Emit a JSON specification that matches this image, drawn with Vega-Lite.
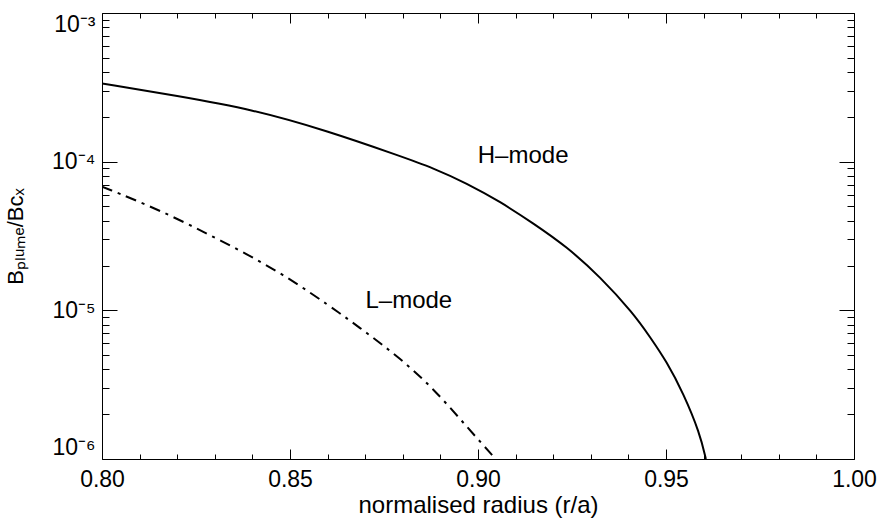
{
  "$schema": "https://vega.github.io/schema/vega-lite/v6.json",
  "width": 752,
  "height": 446,
  "autosize": {"type": "none"},
  "padding": {"left": 102, "top": 13, "right": 26, "bottom": 63},
  "background": "white",
  "config": {
    "view": {"stroke": null},
    "font": "Liberation Sans",
    "axis": {
      "domainColor": "black", "tickColor": "black", "labelColor": "black", "titleColor": "black",
      "grid": false, "labelFont": "Liberation Sans", "titleFont": "Liberation Sans",
      "labelFontWeight": "normal", "titleFontWeight": "normal", "domainWidth": 1, "tickWidth": 1
    }
  },
  "datasets": {
    "H": [
      {"r": 0.800, "ratio": 3.36e-4},
      {"r": 0.820, "ratio": 2.77e-4},
      {"r": 0.840, "ratio": 2.25e-4},
      {"r": 0.860, "ratio": 1.61e-4},
      {"r": 0.8793, "ratio": 1.09e-4},
      {"r": 0.8881, "ratio": 9.07e-5},
      {"r": 0.8970, "ratio": 7.15e-5},
      {"r": 0.9059, "ratio": 5.38e-5},
      {"r": 0.9147, "ratio": 3.85e-5},
      {"r": 0.9236, "ratio": 2.68e-5},
      {"r": 0.9325, "ratio": 1.68e-5},
      {"r": 0.9413, "ratio": 9.55e-6},
      {"r": 0.9457, "ratio": 6.65e-6},
      {"r": 0.9502, "ratio": 4.51e-6},
      {"r": 0.9546, "ratio": 2.77e-6},
      {"r": 0.9590, "ratio": 1.49e-6},
      {"r": 0.9606, "ratio": 1.0e-6}
    ],
    "L": [
      {"r": 0.800, "ratio": 6.8e-5},
      {"r": 0.8154, "ratio": 4.73e-5},
      {"r": 0.8314, "ratio": 2.97e-5},
      {"r": 0.8482, "ratio": 1.77e-5},
      {"r": 0.8646, "ratio": 9.05e-6},
      {"r": 0.8699, "ratio": 7.2e-6},
      {"r": 0.8793, "ratio": 4.76e-6},
      {"r": 0.8881, "ratio": 2.99e-6},
      {"r": 0.8970, "ratio": 1.65e-6},
      {"r": 0.9047, "ratio": 1.0e-6}
    ],
    "labels": [
      {"r": 0.912, "ratio": 1.1e-4, "text": "H–mode"},
      {"r": 0.8816, "ratio": 1.15e-5, "text": "L–mode"}
    ]
  },
  "layer": [
    {
      "data": {"name": "H"},
      "mark": {"type": "line", "color": "black", "strokeWidth": 2, "interpolate": "basis", "clip": true},
      "encoding": {
        "x": {
          "field": "r", "type": "quantitative",
          "scale": {"domain": [0.8, 1.0], "nice": false, "zero": false},
          "axis": {
            "orient": "bottom", "values": [0.8, 0.85, 0.9, 0.95, 1.0], "format": ".2f",
            "ticks": false, "labelPadding": 9, "labelFontSize": 23, "labelFlush": false,
            "title": "normalised radius (r/a)", "titleFontSize": 24, "titlePadding": 2
          }
        },
        "y": {
          "field": "ratio", "type": "quantitative",
          "scale": {"type": "log", "domain": [1e-6, 1e-3], "nice": false},
          "axis": {
            "orient": "left", "values": [1e-6, 1e-5, 1e-4, 1e-3], "ticks": false,
            "labelExpr": "datum.value > 5e-4 ? '10⁻³' : datum.value > 5e-5 ? '10⁻⁴' : datum.value > 5e-6 ? '10⁻⁵' : '10⁻⁶'",
            "labelFlush": true, "labelPadding": 7, "labelFontSize": 23,
            "title": "Bₚₗᵤₘₑ/Bᴄₓ", "titleFontSize": 22, "titlePadding": 24
          }
        }
      }
    },
    {
      "data": {"name": "L"},
      "mark": {"type": "line", "color": "black", "strokeWidth": 2, "strokeDash": [11, 6, 3, 6], "interpolate": "basis", "clip": true},
      "encoding": {
        "x": {
          "field": "r", "type": "quantitative",
          "scale": {"domain": [0.8, 1.0], "nice": false, "zero": false},
          "axis": {
            "orient": "bottom", "labels": false, "title": null, "domain": false,
            "values": [0.8, 0.81, 0.82, 0.83, 0.84, 0.85, 0.86, 0.87, 0.88, 0.89, 0.9, 0.91, 0.92, 0.93, 0.94, 0.95, 0.96, 0.97, 0.98, 0.99, 1.0],
            "tickSize": {"condition": {"test": "abs(datum.value*20 - round(datum.value*20)) < 0.001", "value": -10}, "value": -5}
          }
        },
        "y": {
          "field": "ratio", "type": "quantitative",
          "scale": {"type": "log", "domain": [1e-6, 1e-3], "nice": false},
          "axis": {
            "orient": "left", "labels": false, "title": null, "domain": false,
            "values": [1e-6, 2e-6, 3e-6, 4e-6, 5e-6, 6e-6, 7e-6, 8e-6, 9e-6, 1e-5, 2e-5, 3e-5, 4e-5, 5e-5, 6e-5, 7e-5, 8e-5, 9e-5, 1e-4, 2e-4, 3e-4, 4e-4, 5e-4, 6e-4, 7e-4, 8e-4, 9e-4, 1e-3],
            "tickSize": {"condition": {"test": "abs(log(datum.value)/LN10 - round(log(datum.value)/LN10)) < 0.001", "value": -15}, "value": -7}
          }
        }
      }
    },
    {
      "data": {"name": "labels"},
      "mark": {"type": "text", "color": "black", "fontSize": 24, "font": "Liberation Sans", "align": "center", "baseline": "middle"},
      "encoding": {
        "text": {"field": "text"},
        "x": {
          "field": "r", "type": "quantitative",
          "scale": {"domain": [0.8, 1.0], "nice": false, "zero": false},
          "axis": {
            "orient": "top", "labels": false, "title": null, "domain": true,
            "values": [0.8, 0.81, 0.82, 0.83, 0.84, 0.85, 0.86, 0.87, 0.88, 0.89, 0.9, 0.91, 0.92, 0.93, 0.94, 0.95, 0.96, 0.97, 0.98, 0.99, 1.0],
            "tickSize": {"condition": {"test": "abs(datum.value*20 - round(datum.value*20)) < 0.001", "value": -10}, "value": -5}
          }
        },
        "y": {
          "field": "ratio", "type": "quantitative",
          "scale": {"type": "log", "domain": [1e-6, 1e-3], "nice": false},
          "axis": {
            "orient": "right", "labels": false, "title": null, "domain": true,
            "values": [1e-6, 2e-6, 3e-6, 4e-6, 5e-6, 6e-6, 7e-6, 8e-6, 9e-6, 1e-5, 2e-5, 3e-5, 4e-5, 5e-5, 6e-5, 7e-5, 8e-5, 9e-5, 1e-4, 2e-4, 3e-4, 4e-4, 5e-4, 6e-4, 7e-4, 8e-4, 9e-4, 1e-3],
            "tickSize": {"condition": {"test": "abs(log(datum.value)/LN10 - round(log(datum.value)/LN10)) < 0.001", "value": -15}, "value": -7}
          }
        }
      }
    }
  ],
  "resolve": {"axis": {"x": "independent", "y": "independent"}}
}
